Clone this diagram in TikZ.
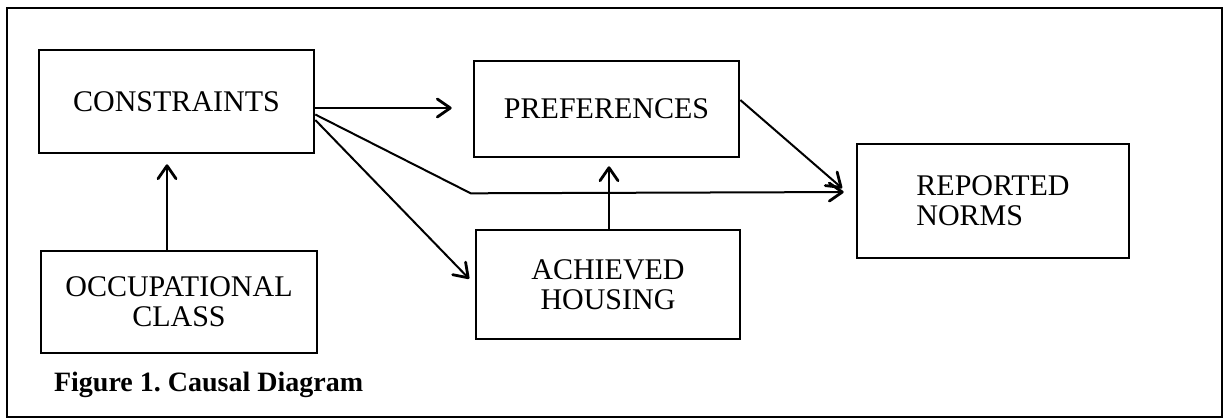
\documentclass[tikz,border=0pt]{standalone}
\usepackage{fontspec}
\setmainfont{Liberation Serif}
\usetikzlibrary{arrows.meta,calc}
\begin{document}
\frenchspacing
\begin{tikzpicture}[x=0.5pt,y=-0.5pt,
  box/.style={draw,line width=1.3pt,inner sep=0pt,align=center,
    font=\fontsize{15}{15}\selectfont},
  arr/.style={line width=1pt,-{Straight Barb[length=6.5pt,width=9pt,line width=1.4pt,round]}},
  frame/.style={line width=0.8pt}]
\useasboundingbox (0,0) rectangle (1225,419);
\draw[frame] (7,8) rectangle (1222,417);
\node[box,minimum width=137.5pt,minimum height=51.5pt] (cons) at (176.5,101.5) {CONSTRAINTS};
\node[box,minimum width=132.5pt,minimum height=48pt] (pref) at (606.5,109) {PREFERENCES};
\node[box,minimum width=132pt,minimum height=54.5pt] (ach) at (608,284.5) {ACHIEVED\\HOUSING};
\node[box,align=left,minimum width=136pt,minimum height=57pt] (rep) at (993,201) {REPORTED\\NORMS};
\node[box,minimum width=138pt,minimum height=51pt] (occ) at (179,302) {OCCUPATIONAL\\CLASS};
\node[anchor=west,font=\fontsize{14}{15}\selectfont\bfseries] (cap) at (47,385) {Figure 1. Causal Diagram};
% connectors
\draw[arr,shorten >=5pt] ($(occ.north)+(-12,0)$) -- ($(cons.south)+(-9.5,0)$);
\draw[arr,shorten >=10.5pt] ($(cons.east)+(0,6.5)$) -- ($(pref.west)+(0,-1)$);
\coordinate (bend) at ($(pref.south west)+(-2,35)$);
\draw[arr,shorten >=6pt] ($(cons.east)+(0,13)$) -- (bend) -- ($(rep.west)+(0,-9)$);
\draw[arr,shorten >=4pt] ($(cons.east)+(0,18.5)$) -- (ach.west);
\draw[arr,shorten >=9pt] ($(pref.east)+(0,-9)$) -- ($(rep.west)+(0,-1)$);
\draw[arr,shorten >=4pt] ($(ach.north)+(1,0)$) -- ($(pref.south)+(2.5,0)$);
\end{tikzpicture}
\end{document}
